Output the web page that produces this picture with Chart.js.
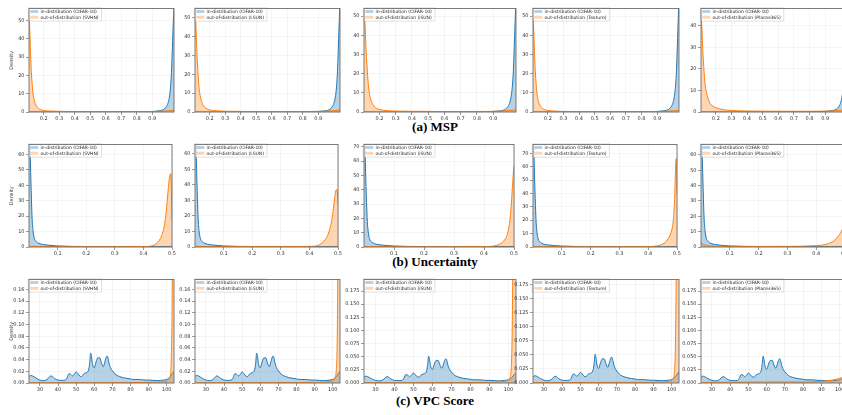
<!DOCTYPE html>
<html><head><meta charset="utf-8">
<script src="https://cdn.jsdelivr.net/npm/chart.js@4.4.1/dist/chart.umd.min.js"></script>
<style>
html,body{margin:0;padding:0;background:#fff;}
#wrap{position:relative;width:842px;height:415px;overflow:hidden;background:#fff;}
#wrap canvas{position:absolute;}
.ttl{position:absolute;left:435px;transform:translateX(-50%);font-family:"Liberation Serif","Times New Roman",serif;font-weight:bold;font-size:13px;line-height:13px;color:#000;white-space:nowrap;}
</style></head>
<body>
<div id="wrap">
<div class="ttl" style="top:120px">(a) MSP</div>
<div class="ttl" style="top:255px">(b) Uncertainty</div>
<div class="ttl" style="top:394px">(c) VPC Score</div>
</div>
<script>
// ---------------- DATA ----------------
const OOD_NAMES = ['SVHN', 'LSUN', 'iSUN', 'Texture', 'Places365'];
const ID_NAME = 'CIFAR-10';

// (a) MSP
const MSP_X_TICKS = [0.2, 0.3, 0.4, 0.5, 0.6, 0.7, 0.8, 0.9];
const MSP_Y_TICKS = [[0,10,20,30,40,50],[0,10,20,30,40,50],[0,10,20,30,40,50],[0,10,20,30,40,50],[0,10,20,30,40]];
const MSP_Y_MAX = [56.5, 55, 54, 54, 48];
const MSP_ID_X = [0.105,0.2,0.3,0.4,0.5,0.6,0.7,0.8,0.85,0.9,0.93,0.95,0.97,0.98,0.99,1.0,1.01,1.02,1.025,1.03,1.035,1.04];
const MSP_ID_Y = [0.02,0.02,0.03,0.04,0.05,0.07,0.1,0.15,0.2,0.3,0.5,0.7,1.2,1.8,2.8,4.5,8,16,24,36,48,58];
const MSP_OOD_X = [0.105,0.11,0.115,0.12,0.13,0.14,0.16,0.18,0.2,0.25,0.3,0.4,0.5,0.6,0.7,0.8,0.9,0.95,1.0,1.04];
const MSP_OOD_SVHN    = [53,45,32,22,11,6,2.5,1.3,0.8,0.5,0.35,0.25,0.2,0.18,0.18,0.2,0.25,0.35,0.6,0.9];
const MSP_OOD_LSUN    = [54,48,37,27,14,8,3.2,1.8,1.1,0.6,0.4,0.3,0.25,0.22,0.22,0.25,0.3,0.4,0.7,1.0];
const MSP_OOD_ISUN    = [53,48,38,29,16,9,3.8,2,1.3,0.7,0.5,0.35,0.3,0.25,0.25,0.28,0.32,0.45,0.8,1.1];
const MSP_OOD_TEXTURE = [50,42,30,21,10,5.5,2.3,1.2,0.8,0.45,0.3,0.22,0.18,0.15,0.15,0.18,0.22,0.35,0.6,0.9];
const MSP_OOD_PLACES  = [46,40,31,24,14,9,4.5,2.8,2,1.1,0.7,0.45,0.38,0.35,0.33,0.33,0.38,0.5,0.8,1.1];

// (b) Uncertainty
const UNC_X_TICKS = [0.1, 0.2, 0.3, 0.4, 0.5];
const UNC_Y_TICKS = [[0,10,20,30,40,50,60],[0,10,20,30,40,50,60],[0,10,20,30,40,50,60,70],[0,10,20,30,40,50,60,70],[0,10,20,30,40,50,60]];
const UNC_Y_MAX = [66.5, 66, 71.6, 76.5, 66.8];
const UNC_ID_X = [0,0.003,0.005,0.0085,0.011,0.014,0.018,0.026,0.035,0.05,0.07,0.1,0.15,0.2,0.3,0.4,0.45,0.5];
const UNC_ID_Y = [85,72,55,31,18,10.7,6,3.4,2.3,1.6,1.1,0.7,0.4,0.3,0.25,0.25,0.3,0.4];
const UNC_OOD_X = [0,0.01,0.03,0.1,0.2,0.3,0.4,0.43,0.443,0.45,0.46,0.465,0.472,0.478,0.484,0.488,0.492,0.4955,0.498,0.5];
const UNC_OOD_SVHN    = [0.5,0.4,0.3,0.2,0.2,0.2,0.3,0.8,1.9,3,5.7,8,12.8,20,31.8,40,46,47.6,35,17];
const UNC_OOD_LSUN    = [0.5,0.4,0.3,0.25,0.25,0.25,0.4,1,2.5,3.5,6,8,12,17,25,31,36,37,34,28];
const UNC_OOD_ISUN    = [0.4,0.3,0.3,0.2,0.2,0.2,0.3,0.6,1.2,1.8,3,4,6,9,15,22,33,45,52,57];
const UNC_OOD_TEXTURE = [0.5,0.4,0.3,0.2,0.2,0.2,0.3,0.8,1.5,2.2,3.5,5,7,10,15,22,38,62,66,40];
const UNC_OOD_PLACES  = [2.5,1.5,0.8,0.4,0.35,0.4,0.9,1.5,2.2,2.8,3.8,4.6,6,7.5,9,10.5,12,13,14,14.5];

// (c) VPC Score
const VPC_X_TICKS = [30, 40, 50, 60, 70, 80, 90, 100];
const VPC_Y_TICKS = [
  [0,0.02,0.04,0.06,0.08,0.10,0.12,0.14,0.16],
  [0,0.02,0.04,0.06,0.08,0.10,0.12,0.14,0.16],
  [0,0.025,0.05,0.075,0.1,0.125,0.15,0.175],
  [0,0.025,0.05,0.075,0.1,0.125,0.15,0.175],
  [0,0.025,0.05,0.075,0.1,0.125,0.15,0.175]];
const VPC_Y_DEC = [2, 2, 3, 3, 3];
const VPC_Y_MAX = [0.177, 0.177, 0.197, 0.184, 0.197];
const VPC_ID_X = [24,25,26,28,30,32,34,36,37,38,40,42,44,45,46,47,48,49,50,51,52,53,54,55,56,57,57.5,58,58.5,59,60,61,62,63,64,65,66,67,67.5,68,69,70,71,72,74,76,78,80,82,85,88,90,95,98,100,101,102,103,104];
const VPC_ID_Y = [0.011,0.013,0.012,0.008,0.005,0.004,0.006,0.012,0.011,0.008,0.005,0.0045,0.005,0.009,0.016,0.015,0.012,0.015,0.019,0.016,0.012,0.011,0.015,0.017,0.018,0.024,0.035,0.051,0.045,0.033,0.026,0.036,0.043,0.043,0.034,0.028,0.038,0.046,0.044,0.036,0.026,0.021,0.017,0.014,0.011,0.009,0.008,0.007,0.006,0.006,0.005,0.005,0.004,0.005,0.006,0.008,0.011,0.016,0.02];
const VPC_OOD_X = [24,40,60,80,90,95,98,100,101,101.5,102,102.5,103,103.5,104];
const VPC_OOD_SVHN    = [0.0005,0.0005,0.0005,0.0008,0.001,0.0015,0.002,0.003,0.005,0.008,0.014,0.04,0.15,0.5,0.9];
const VPC_OOD_LSUN    = [0.0005,0.0005,0.0006,0.0008,0.001,0.0015,0.0025,0.004,0.007,0.012,0.025,0.08,0.3,0.7,0.9];
const VPC_OOD_ISUN    = [0.0005,0.0005,0.0006,0.0009,0.0012,0.002,0.003,0.006,0.012,0.03,0.1,0.3,0.6,0.9,1.0];
const VPC_OOD_TEXTURE = [0.0008,0.0008,0.001,0.0012,0.0015,0.002,0.003,0.005,0.01,0.02,0.06,0.2,0.5,0.8,0.9];
const VPC_OOD_PLACES  = [0.001,0.0015,0.002,0.002,0.003,0.005,0.007,0.009,0.01,0.011,0.012,0.012,0.013,0.013,0.013];

// ---------------- LAYOUT / STYLE ----------------
const COL_LEFT = [29, 195, 364, 533, 701];
const COL_W = [145, 145, 152, 146, 146];
const COL_YW = [29, 20, 24, 19, 22];
const ROW_TOP = [6, 142, 277];
const ROW_H = [106, 105, 106];
const BLUE = '#1f77b4', ORANGE = '#ff7f0e';
const BLUE_FILL = 'rgba(31,119,180,0.33)', ORANGE_FILL = 'rgba(255,127,14,0.32)';
const FONT = 'DejaVu Sans';
const LEGEND_DY = 4;

const ROWS = [
  {xmin:0.105, xmax:1.04, xticks:MSP_X_TICKS, xdec:1, idx:MSP_ID_X, idy:MSP_ID_Y, oodx:MSP_OOD_X,
   ood:[MSP_OOD_SVHN,MSP_OOD_LSUN,MSP_OOD_ISUN,MSP_OOD_TEXTURE,MSP_OOD_PLACES], yticks:MSP_Y_TICKS, ymax:MSP_Y_MAX, ydec:[0,0,0,0,0]},
  {xmin:0, xmax:0.5, xticks:UNC_X_TICKS, xdec:1, idx:UNC_ID_X, idy:UNC_ID_Y, oodx:UNC_OOD_X,
   ood:[UNC_OOD_SVHN,UNC_OOD_LSUN,UNC_OOD_ISUN,UNC_OOD_TEXTURE,UNC_OOD_PLACES], yticks:UNC_Y_TICKS, ymax:UNC_Y_MAX, ydec:[0,0,0,0,0]},
  {xmin:24, xmax:104, xticks:VPC_X_TICKS, xdec:0, idx:VPC_ID_X, idy:VPC_ID_Y, oodx:VPC_OOD_X,
   ood:[VPC_OOD_SVHN,VPC_OOD_LSUN,VPC_OOD_ISUN,VPC_OOD_TEXTURE,VPC_OOD_PLACES], yticks:VPC_Y_TICKS, ymax:VPC_Y_MAX, ydec:VPC_Y_DEC}
];

const pts = (xs, ys) => xs.map((x, i) => ({x: x, y: ys[i]}));

function drawLegendFrame(chart) {
  const lg = chart.legend; const hb = lg && lg.legendHitBoxes;
  if (!hb || !hb.length) return;
  let x0 = Infinity, y0 = Infinity, x1 = -Infinity, y1 = -Infinity;
  hb.forEach(b => { x0 = Math.min(x0, b.left); y0 = Math.min(y0, b.top); x1 = Math.max(x1, b.left + b.width); y1 = Math.max(y1, b.top + b.height); });
  const ctx = chart.ctx;
  ctx.save();
  x0 -= 2; y0 -= 1.5; x1 += 3; y1 += 1.5;
  ctx.fillStyle = 'rgba(255,255,255,0.8)';
  ctx.strokeStyle = '#d4d4d4';
  ctx.lineWidth = 0.7;
  ctx.beginPath(); ctx.rect(x0, y0, x1 - x0, y1 - y0); ctx.fill(); ctx.stroke();
  ctx.restore();
}
const legendLayer = {
  id: 'legendLayer',
  afterInit(chart) {
    const lg = chart.legend; if (!lg) return;
    lg._layers = () => [{z: 10, draw(ca) {
      const ctx = chart.ctx;
      ctx.save(); ctx.translate(0, LEGEND_DY);
      drawLegendFrame(chart); lg.draw(ca);
      ctx.restore();
    }}];
  }
};
const framePlugin = {
  id: 'frame',
  afterDraw(chart) {
    const {ctx, chartArea: a} = chart;
    ctx.save(); ctx.strokeStyle = '#6e6e6e'; ctx.lineWidth = 0.9;
    ctx.strokeRect(a.left, a.top, a.right - a.left, a.bottom - a.top);
    ctx.restore();
  }
};

const wrap = document.getElementById('wrap');
const TP = 2, RP = 3, XH = 12;

ROWS.forEach((row, r) => {
  for (let c = 0; c < 5; c++) {
    const yw = COL_YW[c], w = COL_W[c], h = ROW_H[r];
    const W = w + yw + RP, H = h + TP + XH;
    const cv = document.createElement('canvas');
    cv.width = W; cv.height = H;
    cv.style.width = W + 'px'; cv.style.height = H + 'px';
    cv.style.left = (COL_LEFT[c] - yw) + 'px'; cv.style.top = (ROW_TOP[r] - TP) + 'px';
    wrap.appendChild(cv);
    const yt = row.yticks[c], ydec = row.ydec[c];
    new Chart(cv, {
      type: 'line',
      data: {datasets: [
        {label: 'in-distribution (' + ID_NAME + ')', data: pts(row.idx, row.idy), borderColor: BLUE, backgroundColor: BLUE_FILL,
         fill: 'origin', borderWidth: 1, pointRadius: 0, cubicInterpolationMode: 'monotone', order: 2},
        {label: 'out-of-distribution (' + OOD_NAMES[c] + ')', data: pts(row.oodx, row.ood[c]), borderColor: ORANGE, backgroundColor: ORANGE_FILL,
         fill: 'origin', borderWidth: 1, pointRadius: 0, cubicInterpolationMode: 'monotone', order: 1}
      ]},
      options: {
        responsive: false, animation: false, devicePixelRatio: 1,
        layout: {padding: {top: TP, right: RP, left: 0, bottom: 0}},
        events: [],
        plugins: {
          tooltip: {enabled: false},
          legend: {
            position: 'chartArea', align: 'start',
            labels: {
              font: {size: 4.5, family: FONT}, color: '#222', boxWidth: 8, boxHeight: 3, padding: 1.3,
              generateLabels(chart) {
                const ds = chart.data.datasets;
                return [0, 1].map(i => ({text: ds[i].label, fillStyle: ds[i].backgroundColor, strokeStyle: ds[i].backgroundColor,
                  lineWidth: 0, hidden: false, datasetIndex: i, fontColor: '#222'}));
              }
            }
          }
        },
        scales: {
          x: {
            type: 'linear', min: row.xmin, max: row.xmax,
            afterBuildTicks: s => { s.ticks = row.xticks.map(v => ({value: v})); },
            afterFit: s => { s.height = XH; },
            ticks: {font: {size: 5, family: FONT}, color: '#333', padding: 1, maxRotation: 0, autoSkip: false,
              callback: v => Number(v).toFixed(row.xdec)},
            grid: {color: 'rgba(0,0,0,0.07)', lineWidth: 0.6, tickLength: 3, tickColor: '#555', tickWidth: 0.6},
            border: {display: false}
          },
          y: {
            type: 'linear', min: 0, max: row.ymax[c],
            afterBuildTicks: s => { s.ticks = yt.map(v => ({value: v})); },
            afterFit: s => { s.width = yw; },
            ticks: {font: {size: 5, family: FONT}, color: '#333', padding: 1.5, autoSkip: false,
              callback: v => Number(v).toFixed(ydec)},
            grid: {color: 'rgba(0,0,0,0.07)', lineWidth: 0.6, tickLength: 3, tickColor: '#555', tickWidth: 0.6},
            border: {display: false},
            title: {display: c === 0, text: 'Density', font: {size: 5, family: FONT}, color: '#333', padding: {top: 9, bottom: 0}}
          }
        }
      },
      plugins: [legendLayer, framePlugin]
    });
  }
});
</script>
</body></html>
